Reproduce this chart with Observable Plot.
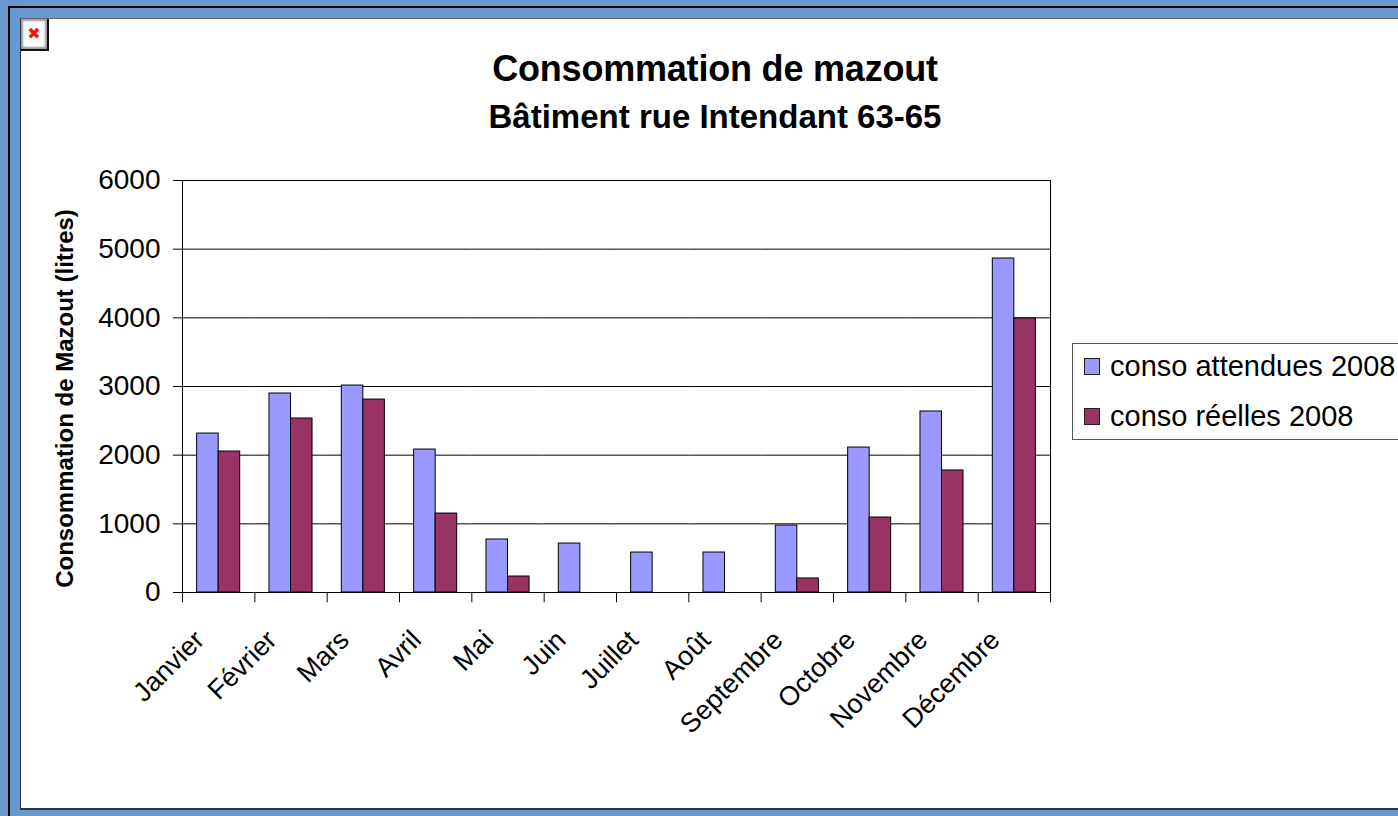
<!DOCTYPE html>
<html lang="fr">
<head>
<meta charset="utf-8">
<script src="https://cdn.jsdelivr.net/npm/d3@7"></script>
<script src="https://cdn.jsdelivr.net/npm/@observablehq/plot@0.6"></script>
<style>
html,body{margin:0;padding:0;width:1398px;height:816px;overflow:hidden;background:#6699cc;font-family:"Liberation Sans",Arial,sans-serif;}
#outer{position:absolute;left:8px;top:6px;width:1390px;height:810px;border-left:2px solid #000;border-top:2px solid #000;box-sizing:border-box;}
#panel{position:absolute;left:20px;top:18px;width:1378px;height:792px;background:#fff;border-left:1px solid #2b3440;border-top:1px solid #666;border-bottom:2px solid #2b3440;box-sizing:border-box;}
#icon{position:absolute;left:21px;top:19px;width:28px;height:32px;box-sizing:border-box;background:#fff;border-right:2px solid #111;border-bottom:2px solid #111;box-shadow:inset 2px 2px 2px #999,inset -2px -2px 2px #999;color:#f01020;font:bold 16px/30px "DejaVu Sans",sans-serif;text-align:center;}
#chart{position:absolute;left:0;top:0;}
#chart svg{background:transparent!important;display:block;}
.title{position:absolute;left:20px;width:1390px;text-align:center;font-weight:bold;color:#000;white-space:nowrap;}
#t1{top:47px;font-size:36px;line-height:44px;letter-spacing:-.2px;}
#t2{top:99px;font-size:33px;line-height:36px;}
#legend{position:absolute;left:1072px;top:343px;width:330px;height:97px;box-sizing:border-box;background:#fff;border:1px solid #555;}
.row{position:absolute;left:11px;font-size:29px;line-height:32px;white-space:nowrap;color:#000;}
.sw{display:inline-block;position:absolute;left:0;top:8px;width:16px;height:17px;box-sizing:border-box;border:1px solid #222;}
.row span.t{margin-left:26px;}
</style>
</head>
<body>
<div id="outer"></div>
<div id="panel"></div>
<div id="icon">✖</div>
<div id="chart"></div>
<div class="title" id="t1"></div>
<div class="title" id="t2"></div>
<div id="legend"></div>
<script>
const months = ["Janvier","Février","Mars","Avril","Mai","Juin","Juillet","Août","Septembre","Octobre","Novembre","Décembre"];
const attendues = [2315,2898,3014,2082,772,713,582,582,975,2111,2636,4864];
const reelles = [2053,2534,2810,1150,233,0,0,0,204,1092,1777,3990];
const seriesNames = ["conso attendues 2008","conso réelles 2008"];
const seriesColors = ["#9999ff","#993366"];
const yTicks = [0,1000,2000,3000,4000,5000,6000];
const chartTitle = "Consommation de mazout";
const chartSubtitle = "Bâtiment rue Intendant 63-65";
const yTitle = "Consommation de Mazout (litres)";

document.getElementById("t1").textContent = chartTitle;
document.getElementById("t2").textContent = chartSubtitle;

const rows = months.flatMap((m,i)=>[
  {month:m,series:seriesNames[0],value:attendues[i]},
  {month:m,series:seriesNames[1],value:reelles[i]}
]).filter(d=>d.value>0);

const plot = Plot.plot({
  width:1398,height:816,
  marginLeft:182,marginRight:348,marginTop:180,marginBottom:224,
  style:{fontFamily:'"Liberation Sans",Arial,sans-serif',color:"#000",background:"transparent"},
  x:{domain:seriesNames,axis:null,paddingInner:0,paddingOuter:0.68,round:false},
  fx:{domain:months,padding:0,label:null,round:false},
  y:{domain:[0,6000],label:null,axis:null},
  color:{domain:seriesNames,range:seriesColors},
  marks:[
    Plot.ruleY(yTicks,{stroke:"#000",strokeWidth:1}),
    Plot.frame({stroke:"#000",strokeWidth:1,facet:"super"}),
    Plot.barY(rows,{fx:"month",x:"series",y:"value",fill:"series",stroke:"#000",strokeWidth:1}),
    Plot.axisY({ticks:yTicks,tickSize:9,tickPadding:13,fontSize:28,stroke:"#000",tickFormat:d=>String(d),label:null}),
    Plot.ruleX(months,{x:null,fx:d=>d,y1:0,y2:-150,dx:-36.17,stroke:"#000"}),
    Plot.ruleX(months.slice(-1),{x:null,fx:d=>d,y1:0,y2:-150,dx:36.17,stroke:"#000"}),
    Plot.axisFx({tickSize:0,tickRotate:-45,tickPadding:22,dx:-19,dy:21,fontSize:27,label:null,anchor:"bottom"}),
    Plot.text([yTitle],{frameAnchor:"left",textAnchor:"middle",rotate:-90,dx:-117,dy:12,fontSize:24,fontWeight:"bold",fill:"#000",facet:"super"})
  ]
});
document.getElementById("chart").appendChild(plot);

const legend = document.getElementById("legend");
seriesNames.forEach((s,i)=>{
  const r=document.createElement("div");
  r.className="row";r.style.top=(6+i*50)+"px";
  const sw=document.createElement("span");sw.className="sw";sw.style.background=seriesColors[i];
  const t=document.createElement("span");t.className="t";t.textContent=s;
  r.append(sw,t);legend.appendChild(r);
});
</script>
</body>
</html>
